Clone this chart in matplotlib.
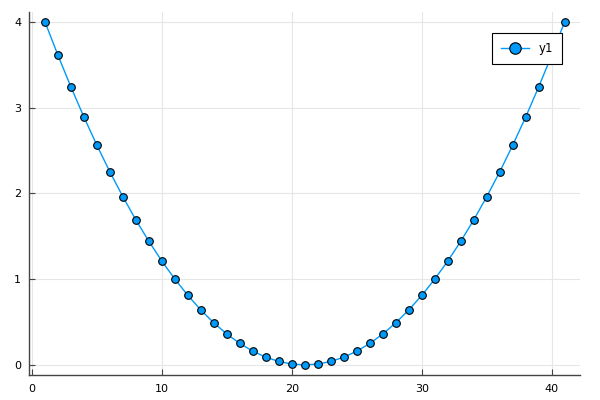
import matplotlib
matplotlib.use("Agg")
import matplotlib.pyplot as plt

# values
x = list(range(1, 42))
y1 = [4.0, 3.61, 3.24, 2.89, 2.56, 2.25, 1.96, 1.69, 1.44, 1.21,
      1.0, 0.81, 0.64, 0.49, 0.36, 0.25, 0.16, 0.09, 0.04, 0.01,
      0.0,
      0.01, 0.04, 0.09, 0.16, 0.25, 0.36, 0.49, 0.64, 0.81, 1.0,
      1.21, 1.44, 1.69, 1.96, 2.25, 2.56, 2.89, 3.24, 3.61, 4.0]
xticks = [0, 10, 20, 30, 40]
yticks = [0, 1, 2, 3, 4]

fig = plt.figure(figsize=(6, 4), dpi=100)
ax = fig.add_axes([0.049, 0.062, 0.918, 0.909])

ax.plot(x, y1, color="#009AFA", lw=1, marker="o", ms=5.5,
        mfc="#009AFA", mec="black", mew=0.8, label="y1")

ax.set_xlim(-0.2, 42.2)
ax.set_ylim(-0.12, 4.12)
ax.set_xticks(xticks)
ax.set_yticks(yticks)
ax.grid(True, color="#e6e6e6", lw=0.8)
ax.set_axisbelow(True)

for s in ["top", "right"]:
    ax.spines[s].set_visible(False)
for s in ["left", "bottom"]:
    ax.spines[s].set_color("#444444")
    ax.spines[s].set_linewidth(1)
ax.tick_params(direction="in", length=4, width=0.8, color="#444444",
               labelsize=8, pad=6)

leg = ax.legend(loc="upper right", bbox_to_anchor=(0.967, 0.941),
                borderaxespad=0, fancybox=False, edgecolor="black",
                fontsize=8.5, handlelength=2.4, handletextpad=0.8,
                borderpad=0.75, framealpha=1, markerscale=1.5)
leg.get_frame().set_linewidth(0.8)

fig.savefig("out.png", dpi=100)
